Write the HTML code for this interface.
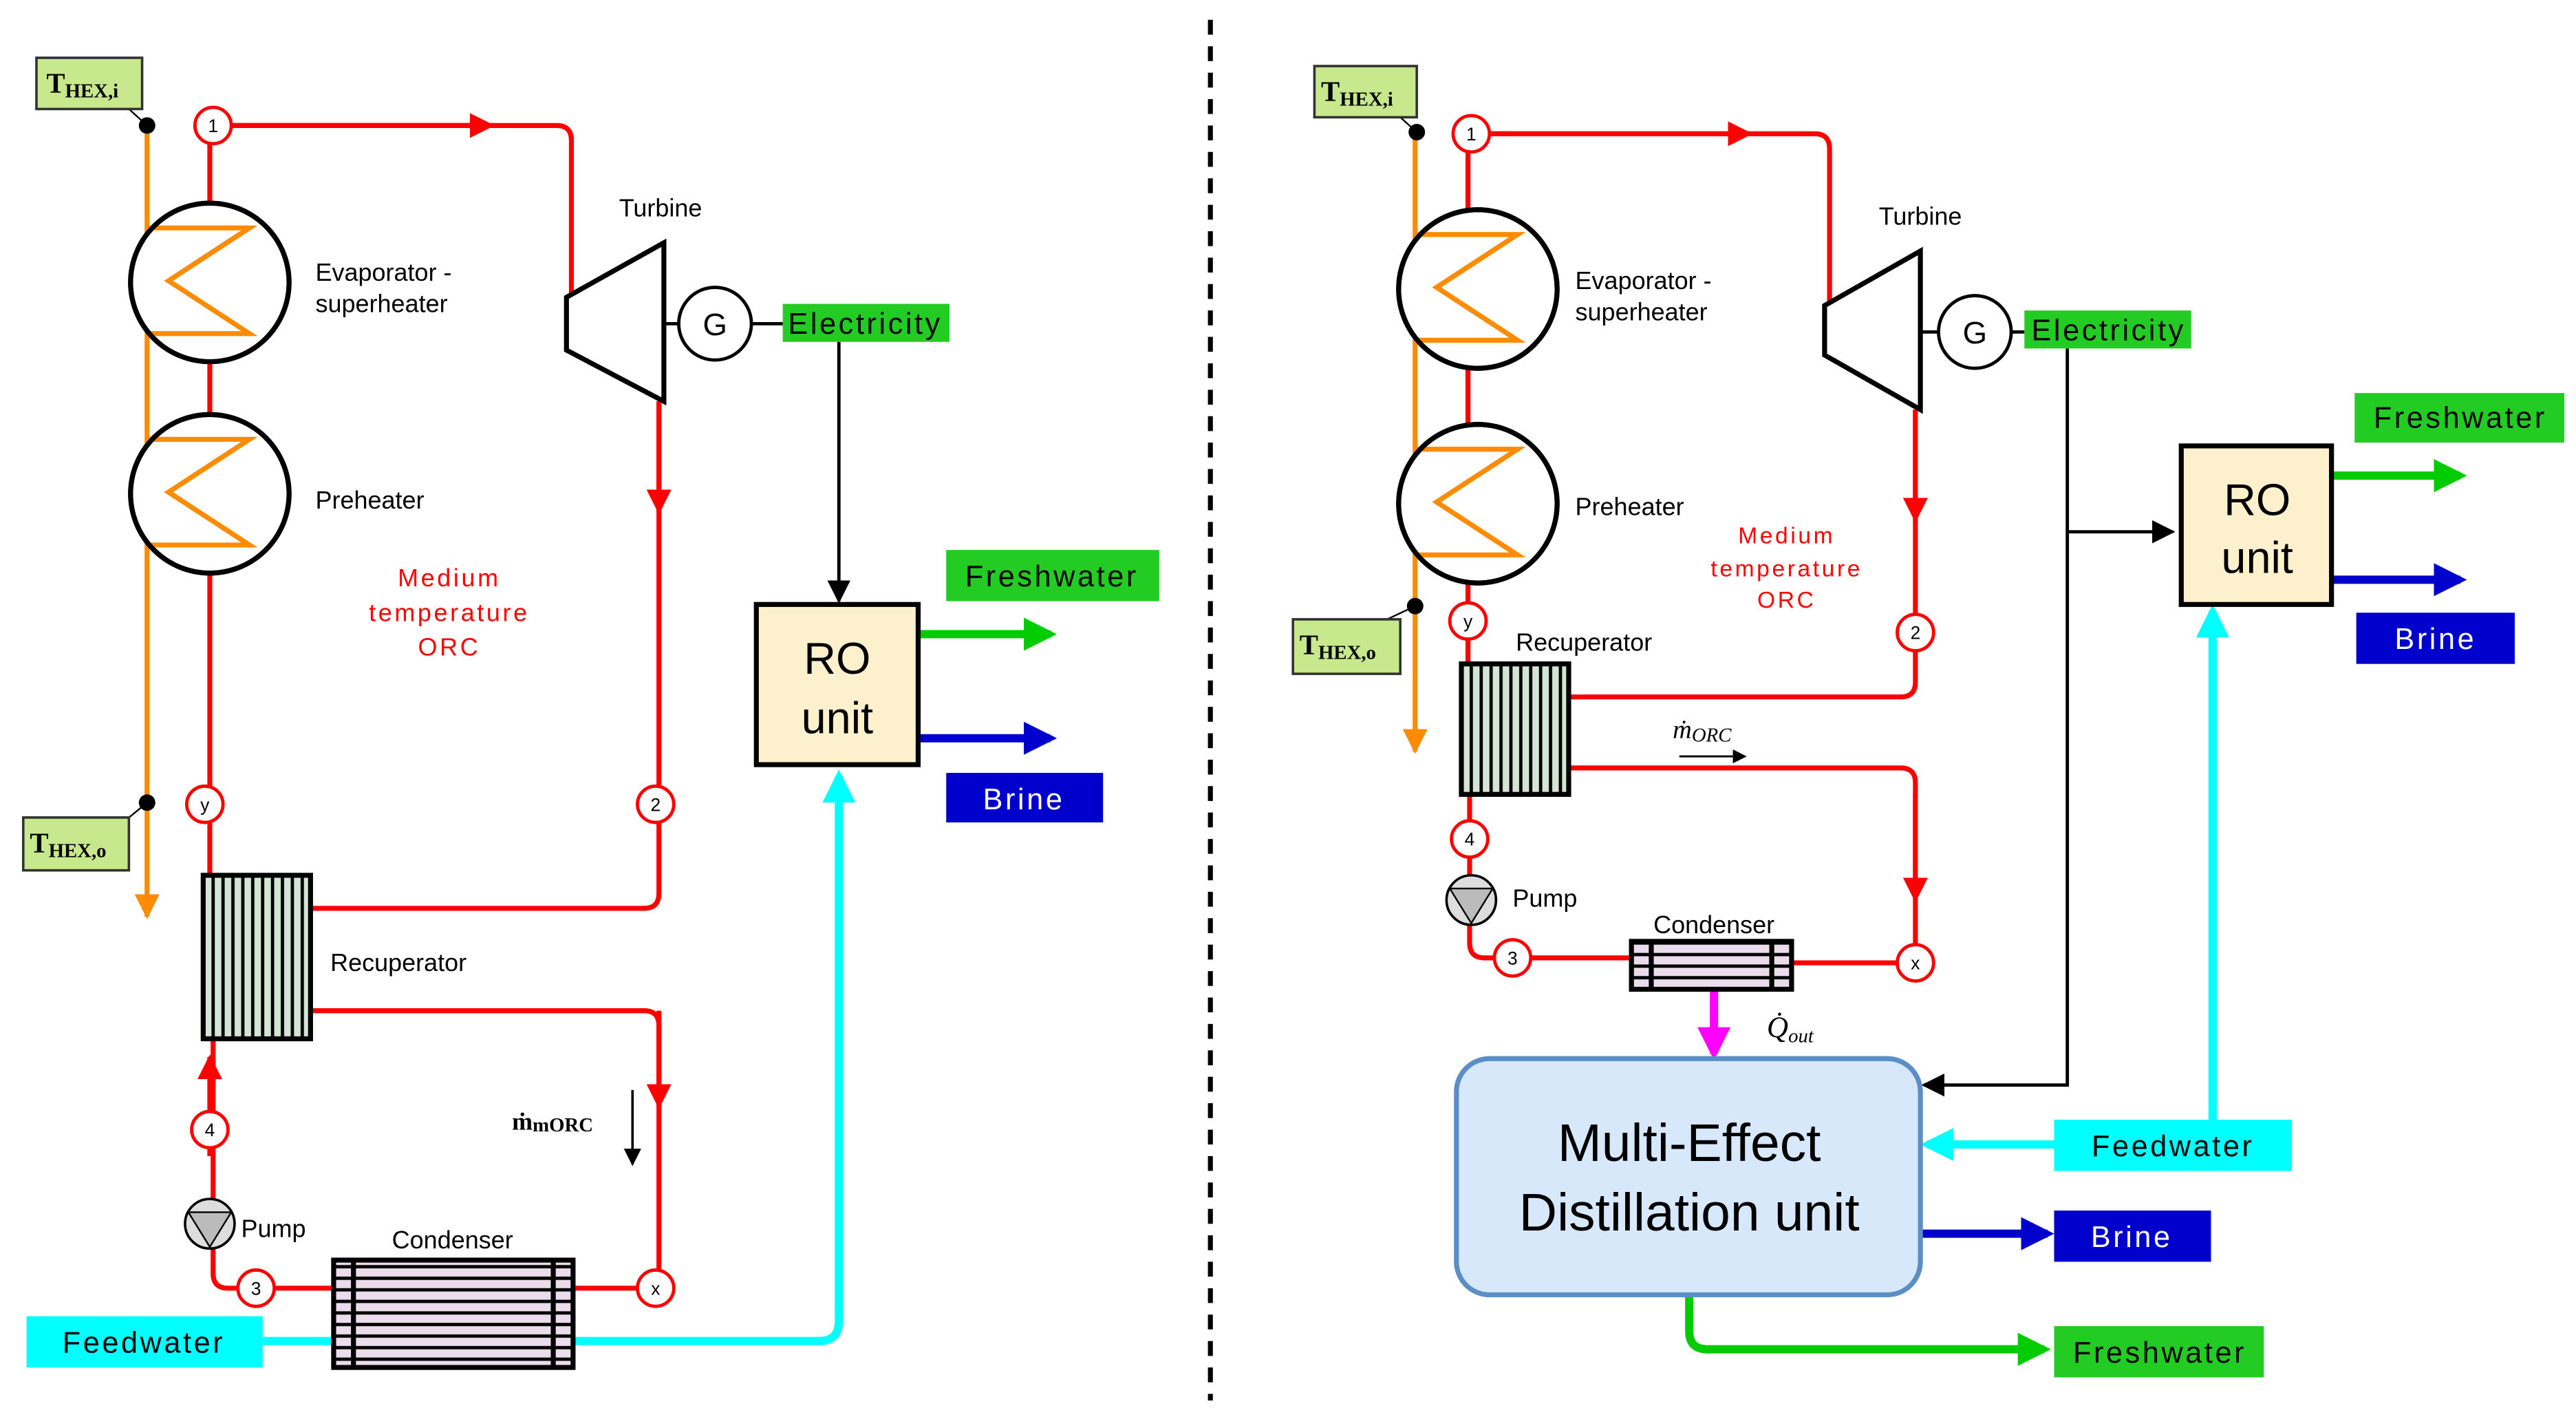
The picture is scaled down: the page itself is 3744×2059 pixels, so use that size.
<!DOCTYPE html>
<html><head><meta charset="utf-8"><style>
html,body{margin:0;padding:0;background:#fff;}
svg{display:block;}
text{font-family:"Liberation Sans",sans-serif;}
.lbl{font-size:15px;fill:#000;}
.bx{font-size:18px;letter-spacing:1.5px;}
</style></head><body>
<svg width="3744" height="2059" viewBox="0 0 1560 858" xmlns="http://www.w3.org/2000/svg">
<defs>
<marker id="ar" viewBox="0 0 10 10" refX="9" refY="5" markerWidth="5" markerHeight="5" orient="auto"><path d="M0,0L10,5L0,10z" fill="red"/></marker>
<marker id="ak" viewBox="0 0 10 10" refX="9" refY="5" markerWidth="7" markerHeight="7" orient="auto"><path d="M0,0L10,5L0,10z" fill="#000"/></marker>
<marker id="ao" viewBox="0 0 10 10" refX="9" refY="5" markerWidth="5" markerHeight="5" orient="auto"><path d="M0,0L10,5L0,10z" fill="#ff8c00"/></marker>
<marker id="ac" viewBox="0 0 10 10" refX="8" refY="5" markerWidth="4" markerHeight="4" orient="auto"><path d="M0,0L10,5L0,10z" fill="#00ffff"/></marker>
<marker id="ag" viewBox="0 0 10 10" refX="8" refY="5" markerWidth="4" markerHeight="4" orient="auto"><path d="M0,0L10,5L0,10z" fill="#00cc00"/></marker>
<marker id="ab" viewBox="0 0 10 10" refX="8" refY="5" markerWidth="4" markerHeight="4" orient="auto"><path d="M0,0L10,5L0,10z" fill="#0000cc"/></marker>
<marker id="am" viewBox="0 0 10 10" refX="8" refY="5" markerWidth="4" markerHeight="4" orient="auto"><path d="M0,0L10,5L0,10z" fill="#ff00ff"/></marker>
<pattern id="vs" width="6" height="10" patternUnits="userSpaceOnUse"><rect width="6" height="10" fill="#d3e6d3"/><rect x="2" width="2" height="10" fill="#000"/></pattern>
<pattern id="hs" width="10" height="7" patternUnits="userSpaceOnUse"><rect width="10" height="7" fill="#eadcea"/><rect y="3" width="10" height="2" fill="#000"/></pattern>
</defs>

<line x1="733" y1="12" x2="733" y2="848" stroke="#000" stroke-width="3" stroke-dasharray="9,7"/>

<!-- ========== LEFT ========== -->
<g fill="none" stroke-width="3">
<line x1="89" y1="76" x2="89" y2="555" stroke="#ff8c00" marker-end="url(#ao)"/>
<path d="M129,76 H337 Q346,76 346,85 V180" stroke="red"/>
<line x1="129" y1="76" x2="298" y2="76" stroke="red" marker-end="url(#ar)"/>
<line x1="127" y1="76" x2="127" y2="530" stroke="red"/>
<path d="M399,243 V541 Q399,550 390,550 H188" stroke="red"/>
<line x1="399" y1="243" x2="399" y2="310" stroke="red" marker-end="url(#ar)"/>
<path d="M188,612 H390 Q399,612 399,621 V780 H347" stroke="red"/>
<line x1="399" y1="612" x2="399" y2="670" stroke="red" marker-end="url(#ar)"/>
<path d="M202,780 H138 Q129,780 129,771 V629" stroke="red"/>
<line x1="127" y1="700" x2="127" y2="640" stroke="red" marker-end="url(#ar)"/>
<line x1="159" y1="812" x2="202" y2="812" stroke="#00ffff" stroke-width="5"/>
<path d="M347,812 H496 Q508,812 508,800 V470" stroke="#00ffff" stroke-width="5" marker-end="url(#ac)"/>
<line x1="508" y1="207" x2="508" y2="364" stroke="#000" stroke-width="2" marker-end="url(#ak)"/>
<line x1="556" y1="384" x2="636" y2="384" stroke="#00cc00" stroke-width="5" marker-end="url(#ag)"/>
<line x1="556" y1="447" x2="636" y2="447" stroke="#0000cc" stroke-width="5" marker-end="url(#ab)"/>
<line x1="402" y1="196" x2="474" y2="196" stroke="#000" stroke-width="2"/>
<line x1="383" y1="660" x2="383" y2="705" stroke="#000" stroke-width="1.5" marker-end="url(#ak)"/>
<line x1="78" y1="66" x2="89" y2="76" stroke="#000" stroke-width="1"/>
<line x1="78" y1="495" x2="89" y2="486" stroke="#000" stroke-width="1"/>
</g>
<circle cx="89" cy="76" r="5"/><circle cx="89" cy="486" r="5"/>
<rect x="22" y="35" width="64" height="31" fill="#c8e88e" stroke="#333" stroke-width="1.5"/>
<text x="28" y="56" font-weight="bold" font-size="17" style="font-family:'Liberation Serif',serif">T<tspan font-size="12" dy="3">HEX,i</tspan></text>
<rect x="14" y="495" width="64" height="32" fill="#c8e88e" stroke="#333" stroke-width="1.5"/>
<text x="18" y="516" font-weight="bold" font-size="17" style="font-family:'Liberation Serif',serif">T<tspan font-size="12" dy="3">HEX,o</tspan></text>

<circle cx="127" cy="171" r="48" fill="#fff" stroke="#000" stroke-width="3"/>
<polyline points="89,138 151,138 102,170 151,202 89,202" fill="none" stroke="#ff8c00" stroke-width="3"/>
<circle cx="127" cy="299" r="48" fill="#fff" stroke="#000" stroke-width="3"/>
<polyline points="89,266 151,266 102,298 151,330 89,330" fill="none" stroke="#ff8c00" stroke-width="3"/>
<circle cx="127" cy="171" r="48" fill="none" stroke="#000" stroke-width="3"/>
<circle cx="127" cy="299" r="48" fill="none" stroke="#000" stroke-width="3"/>
<rect x="123" y="530" width="65" height="99" fill="url(#vs)" stroke="#000" stroke-width="3"/>
<rect x="202" y="763" width="145" height="65" fill="url(#hs)" stroke="#000" stroke-width="3"/>
<line x1="214" y1="763" x2="214" y2="828" stroke="#000" stroke-width="3"/><line x1="335" y1="763" x2="335" y2="828" stroke="#000" stroke-width="3"/>
<polygon points="343,180 402,147 402,243 343,212" fill="#fff" stroke="#000" stroke-width="3"/>
<circle cx="433" cy="196" r="22" fill="#fff" stroke="#000" stroke-width="2"/>
<text x="433" y="203" text-anchor="middle" font-size="19">G</text>
<circle cx="127" cy="741" r="15" fill="#ddd" stroke="#000" stroke-width="1.5"/>
<polygon points="114,734 140,734 127,755" fill="#bbb" stroke="#000" stroke-width="1"/>

<g fill="#fff" stroke="red" stroke-width="2">
<circle cx="129" cy="76" r="11"/><circle cx="124" cy="487" r="11"/><circle cx="397" cy="487" r="11"/>
<circle cx="397" cy="780" r="11"/><circle cx="155" cy="780" r="11"/><circle cx="127" cy="684" r="11"/></g>
<g font-size="11" text-anchor="middle" style="font-family:'Liberation Serif',serif">
<text x="129" y="80">1</text><text x="124" y="491">y</text><text x="397" y="491">2</text><text x="397" y="784">x</text><text x="155" y="784">3</text><text x="127" y="688">4</text></g>

<rect x="458" y="366" width="98" height="97" fill="#fdf0cc" stroke="#000" stroke-width="3"/>
<text x="507" y="408" text-anchor="middle" font-size="27">RO</text>
<text x="507" y="444" text-anchor="middle" font-size="27">unit</text>
<rect x="474" y="184" width="101" height="23" fill="#22cc22"/>
<text x="524" y="202" text-anchor="middle" class="bx">Electricity</text>
<rect x="573" y="333" width="129" height="31" fill="#22cc22"/>
<text x="637" y="355" text-anchor="middle" class="bx">Freshwater</text>
<rect x="573" y="468" width="95" height="30" fill="#0000cc"/>
<text x="620" y="490" text-anchor="middle" class="bx" fill="#fff">Brine</text>
<rect x="16" y="797" width="143" height="31" fill="#00ffff"/>
<text x="87" y="819" text-anchor="middle" class="bx">Feedwater</text>

<text x="400" y="131" text-anchor="middle" class="lbl">Turbine</text>
<text x="191" y="170" class="lbl">Evaporator -</text><text x="191" y="189" class="lbl">superheater</text>
<text x="191" y="308" class="lbl">Preheater</text>
<g fill="red" font-size="15" text-anchor="middle" letter-spacing="1.5"><text x="272" y="355">Medium</text><text x="272" y="376">temperature</text><text x="272" y="397">ORC</text></g>
<text x="200" y="588" class="lbl">Recuperator</text>
<text x="274" y="756" text-anchor="middle" class="lbl">Condenser</text>
<text x="146" y="749" class="lbl">Pump</text>
<text x="310" y="684" font-weight="bold" font-size="15" style="font-family:'Liberation Serif',serif">ṁ<tspan font-size="12" dy="1">mORC</tspan></text>

<!-- ========== RIGHT ========== -->
<g fill="none" stroke-width="3">
<line x1="857" y1="80" x2="857" y2="455" stroke="#ff8c00" marker-end="url(#ao)"/>
<path d="M891,81 H1099 Q1108,81 1108,90 V185" stroke="red"/>
<line x1="891" y1="81" x2="1060" y2="81" stroke="red" marker-end="url(#ar)"/>
<line x1="889" y1="81" x2="889" y2="402" stroke="red"/>
<path d="M1160,248 V413 Q1160,422 1151,422 H950" stroke="red"/>
<line x1="1160" y1="248" x2="1160" y2="315" stroke="red" marker-end="url(#ar)"/>
<path d="M950,465 H1151 Q1160,465 1160,474 V583 H1085" stroke="red"/>
<line x1="1160" y1="480" x2="1160" y2="545" stroke="red" marker-end="url(#ar)"/>
<path d="M988,580 H899 Q890,580 890,571 V481" stroke="red"/>
<line x1="1038" y1="599" x2="1038" y2="638" stroke="#ff00ff" stroke-width="5" marker-end="url(#am)"/>
<line x1="1163" y1="201" x2="1226" y2="201" stroke="#000" stroke-width="2"/>
<path d="M1252,211 V657 H1165" stroke="#000" stroke-width="2" marker-end="url(#ak)"/>
<line x1="1252" y1="322" x2="1316" y2="322" stroke="#000" stroke-width="2" marker-end="url(#ak)"/>
<line x1="1412" y1="288" x2="1490" y2="288" stroke="#00cc00" stroke-width="5" marker-end="url(#ag)"/>
<line x1="1412" y1="351" x2="1490" y2="351" stroke="#0000cc" stroke-width="5" marker-end="url(#ab)"/>
<line x1="1244" y1="693" x2="1167" y2="693" stroke="#00ffff" stroke-width="5" marker-end="url(#ac)"/>
<line x1="1340" y1="678" x2="1340" y2="370" stroke="#00ffff" stroke-width="5" marker-end="url(#ac)"/>
<line x1="1163" y1="747" x2="1240" y2="747" stroke="#0000cc" stroke-width="5" marker-end="url(#ab)"/>
<path d="M1023,784 V806 Q1023,817 1034,817 H1238" stroke="#00cc00" stroke-width="5" marker-end="url(#ag)"/>
<line x1="1017" y1="458" x2="1057" y2="458" stroke="#000" stroke-width="1.2" marker-end="url(#ak)"/>
<line x1="848" y1="71" x2="858" y2="80" stroke="#000" stroke-width="1"/>
<line x1="840" y1="375" x2="857" y2="367" stroke="#000" stroke-width="1"/>
</g>
<circle cx="858" cy="80" r="5"/><circle cx="857" cy="367" r="5"/>
<rect x="796" y="40" width="62" height="31" fill="#c8e88e" stroke="#333" stroke-width="1.5"/>
<text x="800" y="61" font-weight="bold" font-size="17" style="font-family:'Liberation Serif',serif">T<tspan font-size="12" dy="3">HEX,i</tspan></text>
<rect x="783" y="375" width="65" height="33" fill="#c8e88e" stroke="#333" stroke-width="1.5"/>
<text x="787" y="396" font-weight="bold" font-size="17" style="font-family:'Liberation Serif',serif">T<tspan font-size="12" dy="3">HEX,o</tspan></text>

<circle cx="895" cy="175" r="48" fill="#fff" stroke="#000" stroke-width="3"/>
<polyline points="857,142 919,142 870,174 919,206 857,206" fill="none" stroke="#ff8c00" stroke-width="3"/>
<circle cx="895" cy="305" r="48" fill="#fff" stroke="#000" stroke-width="3"/>
<polyline points="857,272 919,272 870,304 919,336 857,336" fill="none" stroke="#ff8c00" stroke-width="3"/>
<circle cx="895" cy="175" r="48" fill="none" stroke="#000" stroke-width="3"/>
<circle cx="895" cy="305" r="48" fill="none" stroke="#000" stroke-width="3"/>
<rect x="885" y="402" width="65" height="79" fill="url(#vs)" stroke="#000" stroke-width="3"/>
<rect x="988" y="570" width="97" height="29" fill="url(#hs)" stroke="#000" stroke-width="3"/>
<line x1="1000" y1="570" x2="1000" y2="599" stroke="#000" stroke-width="3"/><line x1="1073" y1="570" x2="1073" y2="599" stroke="#000" stroke-width="3"/>
<polygon points="1105,185 1163,152 1163,248 1105,215" fill="#fff" stroke="#000" stroke-width="3"/>
<circle cx="1196" cy="201" r="22" fill="#fff" stroke="#000" stroke-width="2"/>
<text x="1196" y="208" text-anchor="middle" font-size="19">G</text>
<circle cx="891" cy="545" r="15" fill="#ddd" stroke="#000" stroke-width="1.5"/>
<polygon points="878,538 904,538 891,559" fill="#bbb" stroke="#000" stroke-width="1"/>

<g fill="#fff" stroke="red" stroke-width="2">
<circle cx="891" cy="81" r="11"/><circle cx="889" cy="376" r="11"/><circle cx="1160" cy="383" r="11"/>
<circle cx="1160" cy="583" r="11"/><circle cx="916" cy="580" r="11"/><circle cx="890" cy="508" r="11"/></g>
<g font-size="11" text-anchor="middle" style="font-family:'Liberation Serif',serif">
<text x="891" y="85">1</text><text x="889" y="380">y</text><text x="1160" y="387">2</text><text x="1160" y="587">x</text><text x="916" y="584">3</text><text x="890" y="512">4</text></g>

<rect x="1321" y="270" width="91" height="96" fill="#fdf0cc" stroke="#000" stroke-width="3"/>
<text x="1367" y="312" text-anchor="middle" font-size="27">RO</text>
<text x="1367" y="347" text-anchor="middle" font-size="27">unit</text>
<rect x="882" y="641" width="281" height="143" rx="20" fill="#d6e8fa" stroke="#5b8ec4" stroke-width="3"/>
<text x="1023" y="703" text-anchor="middle" font-size="32">Multi-Effect</text>
<text x="1023" y="745" text-anchor="middle" font-size="32">Distillation unit</text>
<rect x="1226" y="188" width="101" height="23" fill="#22cc22"/>
<text x="1277" y="206" text-anchor="middle" class="bx">Electricity</text>
<rect x="1426" y="238" width="127" height="30" fill="#22cc22"/>
<text x="1490" y="259" text-anchor="middle" class="bx">Freshwater</text>
<rect x="1427" y="371" width="96" height="31" fill="#0000cc"/>
<text x="1475" y="393" text-anchor="middle" class="bx" fill="#fff">Brine</text>
<rect x="1244" y="678" width="144" height="31" fill="#00ffff"/>
<text x="1316" y="700" text-anchor="middle" class="bx">Feedwater</text>
<rect x="1244" y="733" width="95" height="31" fill="#0000cc"/>
<text x="1291" y="755" text-anchor="middle" class="bx" fill="#fff">Brine</text>
<rect x="1244" y="803" width="127" height="31" fill="#22cc22"/>
<text x="1308" y="825" text-anchor="middle" class="bx">Freshwater</text>

<text x="1163" y="136" text-anchor="middle" class="lbl">Turbine</text>
<text x="954" y="175" class="lbl">Evaporator -</text><text x="954" y="194" class="lbl">superheater</text>
<text x="954" y="312" class="lbl">Preheater</text>
<g fill="red" font-size="14" text-anchor="middle" letter-spacing="1.5"><text x="1082" y="329">Medium</text><text x="1082" y="349">temperature</text><text x="1082" y="368">ORC</text></g>
<text x="918" y="394" class="lbl">Recuperator</text>
<text x="1038" y="565" text-anchor="middle" class="lbl">Condenser</text>
<text x="916" y="549" class="lbl">Pump</text>
<text x="1013" y="447" font-style="italic" font-size="16" style="font-family:'Liberation Serif',serif">ṁ<tspan font-size="12" dy="2">ORC</tspan></text>
<text x="1070" y="628" font-style="italic" font-size="18" style="font-family:'Liberation Serif',serif">Q̇<tspan font-size="12" dy="3">out</tspan></text>
</svg>
</body></html>
